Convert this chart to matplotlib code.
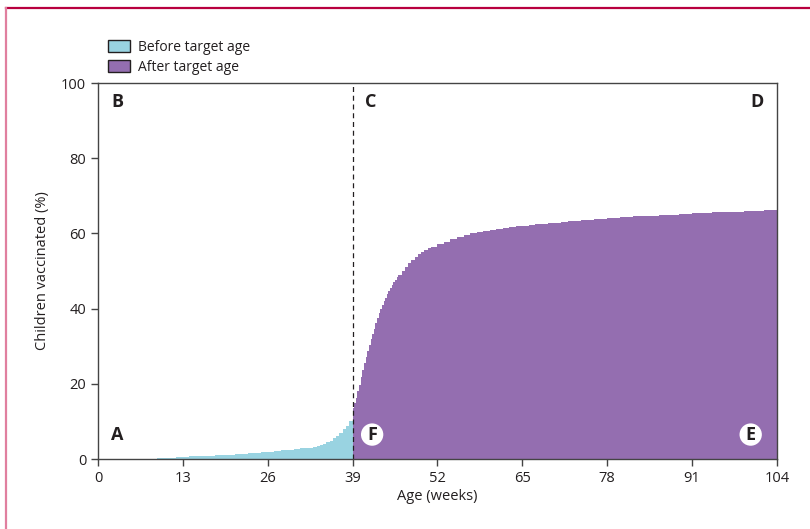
import numpy as np
import matplotlib.pyplot as plt
from matplotlib.patches import Patch
from matplotlib.lines import Line2D

plt.rcParams['font.family'] = ['Open Sans', 'DejaVu Sans']

# cumulative % vaccinated, before target age (weeks 0-39)
before_weeks = [0, 9, 10, 11, 12, 13, 14, 15, 16, 17, 18, 19, 20, 21, 22, 23, 24, 25,
                26, 27, 28, 29, 30, 31, 32, 33, 33.5, 34, 34.5, 35, 35.5, 36, 36.5,
                37, 37.5, 38, 38.5, 39]
before_pct = [0, 0.3, 0.4, 0.4, 0.5, 0.5, 0.7, 0.8, 0.8, 0.9, 1.0, 1.1, 1.2, 1.3, 1.4,
              1.6, 1.7, 1.8, 1.9, 2.1, 2.3, 2.5, 2.6, 2.8, 3.0, 3.2, 3.4, 3.7, 4.0,
              4.4, 4.9, 5.5, 6.2, 7.0, 7.9, 8.9, 10.0, 10.0]

# after target age (weeks 39-104)
after_weeks = [39, 39.25, 39.5, 39.75, 40, 40.25, 40.5, 40.75, 41, 41.25, 41.5, 41.75,
               42, 42.25, 42.5, 42.75, 43, 43.25, 43.5, 43.75, 44, 44.25, 44.5, 44.75,
               45, 45.25, 45.5, 45.75, 46, 46.5, 47, 47.5, 48, 48.5, 49, 49.5, 50,
               50.5, 51, 52, 53, 54, 55, 56, 57,
               58, 59, 60, 61, 62, 63, 64, 65, 66, 67, 68, 69, 70, 71, 72, 73, 74, 75,
               76, 77, 78, 79, 80, 81, 82, 83, 84, 85, 86, 87, 88, 89, 90, 91, 92, 93,
               94, 95, 96, 97, 98, 99, 100, 101, 102, 103, 104]
after_pct = [13.5, 14.8, 16.3, 18.0, 19.8, 21.7, 23.6, 25.5, 27.2, 28.8, 30.4, 31.9,
             33.3, 34.7, 36.1, 37.4, 38.7, 39.8, 40.9, 41.9, 42.9, 43.8, 44.7, 45.5,
             46.3, 47.0, 47.7, 48.4, 49.0, 50.1, 51.1, 52.0, 52.9, 53.7, 54.4, 55.0,
             55.6, 56.0, 56.4, 57.2, 57.8, 58.4, 59.0, 59.6,
             60.0, 60.3, 60.6, 60.9, 61.2, 61.5, 61.7, 61.9, 62.1, 62.3, 62.5, 62.6,
             62.7, 62.9, 63.0, 63.2, 63.3, 63.5, 63.6, 63.8, 63.9, 64.1, 64.2, 64.3,
             64.4, 64.5, 64.6, 64.7, 64.7, 64.8, 64.9, 65.0, 65.1, 65.2, 65.3, 65.4,
             65.5, 65.6, 65.6, 65.7, 65.8, 65.8, 65.9, 66.0, 66.0, 66.1, 66.2, 66.2]

x_ticks = [0, 13, 26, 39, 52, 65, 78, 91, 104]
y_ticks = [0, 20, 40, 60, 80, 100]

blue = "#99d3e1"
purple = "#946eb0"
dark = "#231f20"

fig = plt.figure(figsize=(8.1, 5.29), dpi=100)
ax = fig.add_axes([0.121, 0.1323, 0.838, 0.7108])

ax.fill_between(before_weeks, before_pct, step="post", color=blue, lw=0)
ax.fill_between(after_weeks, after_pct, step="post", color=purple, lw=0)
ax.plot([39, 39], [0, 100], ls=(0, (4, 3)), color=dark, lw=0.9)

ax.set_xlim(0, 104)
ax.set_ylim(0, 100)
ax.set_xticks(x_ticks)
ax.set_yticks(y_ticks)
ax.tick_params(direction="out", length=5, width=1, colors="#444444",
               labelsize=10.5, labelcolor=dark)
for s in ax.spines.values():
    s.set_color("#444444")
    s.set_linewidth(1)
ax.set_xlabel("Age (weeks)", fontsize=10.5, color=dark, labelpad=2)
ax.set_ylabel("Children vaccinated (%)", fontsize=10.5, color=dark, labelpad=8)

# corner letters
lkw = dict(fontsize=13, fontweight="bold", color=dark, va="center", ha="center")
ax.text(3, 95, "B", **lkw)
ax.text(41.8, 95, "C", **lkw)
ax.text(101, 95, "D", **lkw)
ax.text(3, 6.5, "A", **lkw)
circ = dict(boxstyle="circle,pad=0.12", fc="white", ec="none")
ax.text(42.0, 6.5, "F", bbox=circ, **lkw)
ax.text(100.0, 6.5, "E", bbox=circ, **lkw)

handles = [Patch(fc=blue, ec=dark, lw=1, label="Before target age"),
           Patch(fc=purple, ec=dark, lw=1, label="After target age")]
ax.legend(handles=handles, loc="lower left", bbox_to_anchor=(0.002, 1.0),
          frameon=False, fontsize=10, handlelength=1.6, handleheight=1.0,
          labelspacing=0.35, handletextpad=0.6, borderaxespad=0.2,
          labelcolor=dark)

# journal frame lines
fig.add_artist(Line2D([6 / 810, 1], [1 - 8 / 529, 1 - 8 / 529],
                      transform=fig.transFigure, color="#b8003f", lw=1.6))
fig.add_artist(Line2D([6 / 810, 6 / 810], [0, 1 - 8 / 529],
                      transform=fig.transFigure, color="#e07f9f", lw=1.6))

fig.savefig("out.png", dpi=100)
